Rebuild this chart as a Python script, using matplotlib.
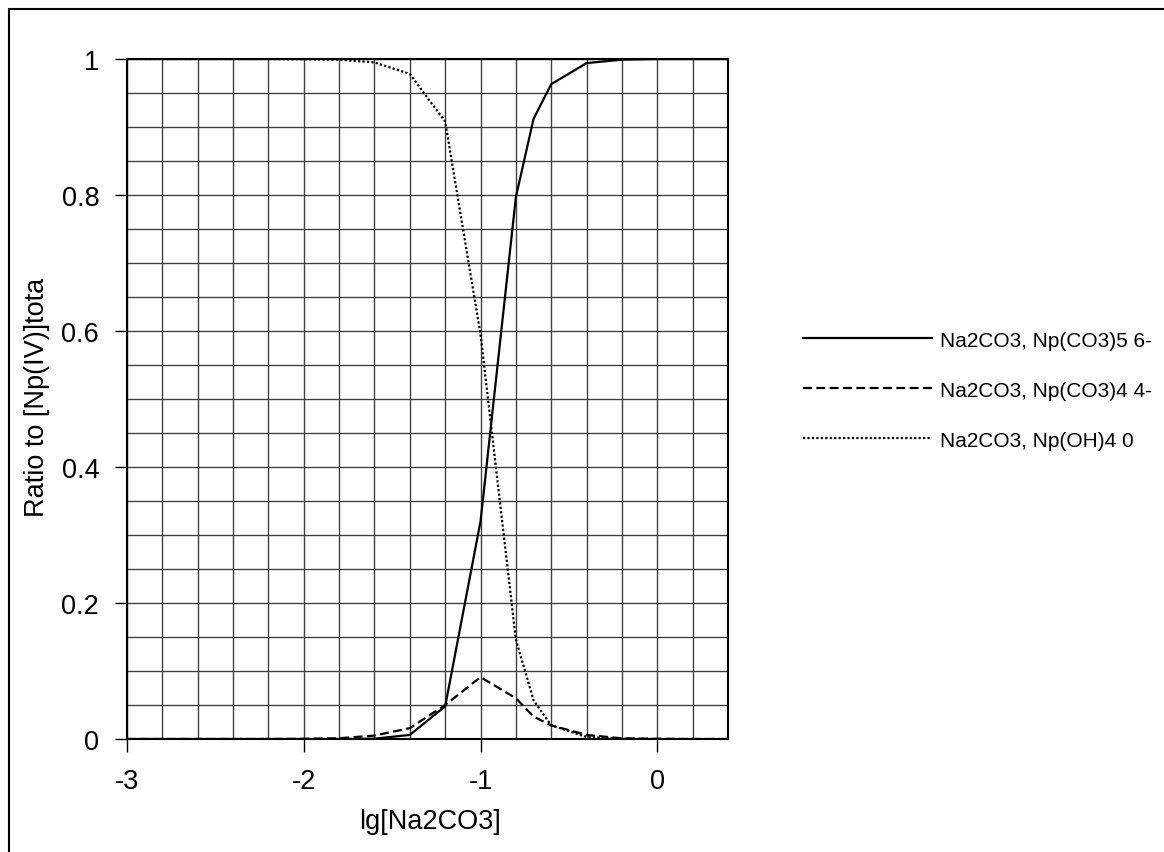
import numpy as np
import matplotlib.pyplot as plt
from matplotlib.patches import Rectangle

plt.rcParams['font.family'] = ['Liberation Sans', 'DejaVu Sans']

# lg[Na2CO3] values
lg_na2co3 = [-3.0, -2.8, -2.6, -2.4, -2.2, -2.0, -1.8, -1.6, -1.4, -1.2, -1.0,
             -0.8, -0.7, -0.6, -0.4, -0.2, 0.0, 0.2, 0.4]

# fractions of total Np(IV)
np_co3_5 = [0.0, 0.0, 0.0, 0.0, 0.0, 0.0, 0.0, 0.0005, 0.006, 0.048, 0.32,
            0.797, 0.912, 0.963, 0.994, 0.999, 1.0, 1.0, 1.0]
np_co3_4 = [0.0, 0.0, 0.0, 0.0, 0.0, 0.0003, 0.0012, 0.005, 0.016, 0.05, 0.091,
            0.06, 0.033, 0.02, 0.006, 0.001, 0.0003, 0.0, 0.0]
np_oh_4 = [1.0, 1.0, 1.0, 1.0, 1.0, 0.9997, 0.999, 0.995, 0.978, 0.908, 0.595,
           0.146, 0.057, 0.02, 0.003, 0.0005, 0.0, 0.0, 0.0]

labels = ["Na2CO3, Np(CO3)5 6-", "Na2CO3, Np(CO3)4 4-", "Na2CO3, Np(OH)4 0"]

fig = plt.figure(figsize=(11.64, 8.53), dpi=100)
ax = fig.add_axes([127 / 1164, 1 - 740 / 853, 601 / 1164, 680 / 853])

# grid
for xv in np.arange(-3.0, 0.41, 0.2):
    ax.axvline(xv, color='#404040', lw=1, zorder=1)
for yv in np.arange(0.0, 1.01, 0.05):
    ax.axhline(yv, color='#404040', lw=1, zorder=1)

ax.plot(lg_na2co3, np_co3_5, color='black', lw=1.6, ls='-', label=labels[0], zorder=3)
ax.plot(lg_na2co3, np_co3_4, color='black', lw=1.6, ls=(0, (4, 2)), label=labels[1], zorder=3)
ax.plot(lg_na2co3, np_oh_4, color='black', lw=1.6, ls=(0, (1, 1)), label=labels[2], zorder=3)

ax.set_xlim(-3, 0.4)
ax.set_ylim(0, 1)
ax.set_xticks([-3, -2, -1, 0])
ax.set_xticklabels(['-3', '-2', '-1', '0'])
ax.set_yticks([0, 0.2, 0.4, 0.6, 0.8, 1])
ax.set_yticklabels(['0', '0.2', '0.4', '0.6', '0.8', '1'])
ax.tick_params(direction='out', length=9, width=1, labelsize=19.5)
ax.tick_params(axis='x', pad=12)
ax.tick_params(axis='y', pad=11)

for s in ax.spines.values():
    s.set_linewidth(1.5)
    s.set_color('black')

ax.set_xlabel('lg[Na2CO3]', fontsize=19.5)
ax.set_ylabel('Ratio to [Np(IV)]tota', fontsize=19.5)
ax.xaxis.set_label_coords(0.504, -0.102)
ax.yaxis.set_label_coords(-0.128, 0.504)

ax.legend(loc='center left', bbox_to_anchor=(1.093, 0.513), frameon=False,
          fontsize=15, handlelength=6.2, handletextpad=0.4, labelspacing=1.49)

# outer chart border
fig.patches.append(Rectangle((9 / 1164, -0.1), 1.2, 1.1 - 10 / 853,
                             transform=fig.transFigure, fill=False,
                             edgecolor='black', lw=1.5))

fig.savefig('out.png', dpi=100)
